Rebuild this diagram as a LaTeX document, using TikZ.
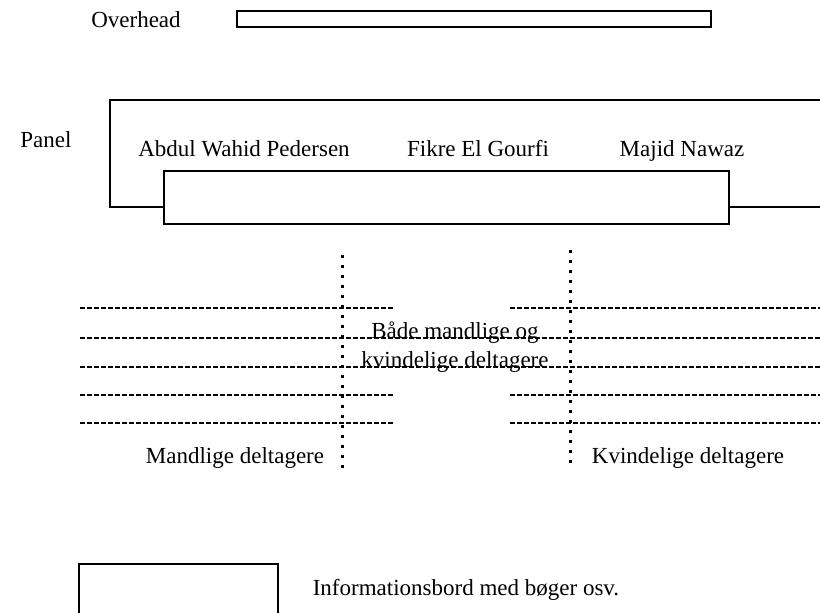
\documentclass[tikz,border=0pt]{standalone}
\usepackage{fontspec}
\setmainfont{Liberation Serif}
\begin{document}
\begin{tikzpicture}[x=0.5pt,y=-0.5pt,
    box/.style={draw, line width=1pt},
    row/.style={line width=1.1pt, dash pattern=on 2.5pt off 1pt},
    aisle/.style={line width=1.5pt, dash pattern=on 1.5pt off 3.5pt},
    lbl/.style={font=\fontsize{11.5}{14}\selectfont, inner sep=0pt, anchor=base}]
  \useasboundingbox (0,0) rectangle (820,612);

  % overhead
  \node[lbl] (overhead) at (136,27) {Overhead};
  \draw[box] (237,11) rectangle (711,27);

  % panel
  \node[lbl] (panel) at (46,147) {Panel};
  \draw[box] (821,100) -- (110,100) -- (110,207) -- (821,207);
  \draw[box, fill=white] (164,171) rectangle (729,224);
  \node[lbl] (abdul) at (244,156) {Abdul Wahid Pedersen};
  \node[lbl] (fikre) at (478,156) {Fikre El Gourfi};
  \node[lbl] (majid) at (682,156) {Majid Nawaz};

  % seat rows
  \foreach \y in {308,395,423} {
    \draw[row] (80,\y) -- (393,\y);
    \draw[row] (510,\y) -- (820,\y);
  }
  \foreach \y in {338,367}
    \draw[row] (80,\y) -- (820,\y);

  % aisles
  \coordinate (lefttop) at (342,255);
  \coordinate (leftbot) at (342,470);
  \coordinate (righttop) at (570,250);
  \coordinate (rightbot) at (570,466);
  \draw[aisle] (lefttop) -- (leftbot);
  \draw[aisle] (righttop) -- (rightbot);

  \node[lbl] (both) at (455,338) {Både mandlige og};
  \node[lbl] (both2) at (455,367) {kvindelige deltagere};
  \node[lbl] (men) at (235,463) {Mandlige deltagere};
  \node[lbl] (women) at (688,463) {Kvindelige deltagere};

  % info table
  \draw[box] (79,613) -- (79,564) -- (278,564) -- (278,613);
  \node[lbl] (info) at (466,595) {Informationsbord med bøger osv.};
\end{tikzpicture}
\end{document}
